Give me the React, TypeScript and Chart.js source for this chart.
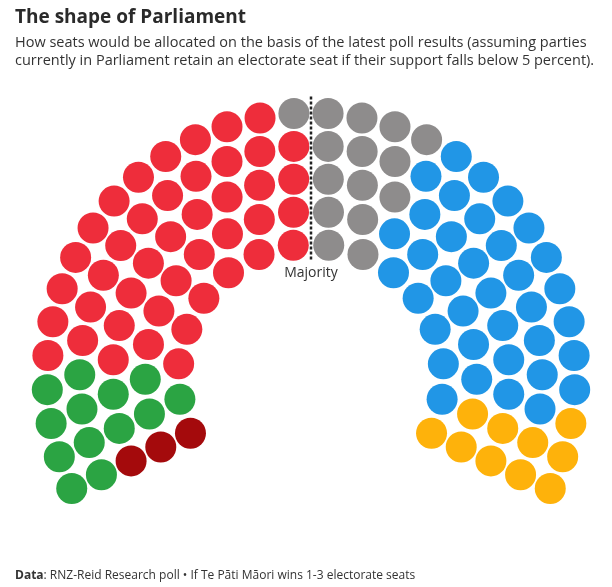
import React, { useEffect, useRef } from "react";
import { Chart, registerables } from "chart.js";

Chart.register(...registerables);

const parties = ["Te Pāti Māori", "Green", "Labour", "NZ First", "National", "ACT"];
const seats = [3, 13, 43, 15, 36, 10];
const partyColors = ["#A40A0C", "#2BA443", "#EE2D3B", "#8E8C8C", "#2196E6", "#FEB20B"];
const seatsPerRow = [16, 20, 24, 28, 32];

const INNER_R = 133;
const ROW_GAP = 32.75;
const START_DEG = 205;
const SPAN_DEG = 230;
const SEAT_RADIUS = 15.5;

function layoutSeats() {
  const all: { off: number; row: number; x: number; y: number }[] = [];
  seatsPerRow.forEach((n, row) => {
    const r = INNER_R + row * ROW_GAP;
    for (let k = 0; k < n; k++) {
      const off = (k * SPAN_DEG) / (n - 1);
      const a = ((START_DEG - off) * Math.PI) / 180;
      all.push({ off, row, x: r * Math.cos(a), y: r * Math.sin(a) });
    }
  });
  all.sort((p, q) => (Math.abs(p.off - q.off) > 1e-6 ? p.off - q.off : p.row - q.row));
  let i = 0;
  return seats.map((s) => {
    const pts = all.slice(i, i + s).map((p) => ({ x: p.x, y: p.y }));
    i += s;
    return pts;
  });
}

const majorityPlugin = {
  id: "majority",
  afterDatasetsDraw(chart: any) {
    const { ctx, scales } = chart;
    const outer = INNER_R + ROW_GAP * (seatsPerRow.length - 1);
    const x = scales.x.getPixelForValue(0);
    const y1 = scales.y.getPixelForValue(outer + SEAT_RADIUS + 1);
    const y2 = scales.y.getPixelForValue(INNER_R - SEAT_RADIUS - 1);
    ctx.save();
    ctx.beginPath();
    ctx.setLineDash([3, 2]);
    ctx.lineWidth = 2.5;
    ctx.strokeStyle = "#222222";
    ctx.moveTo(x, y1);
    ctx.lineTo(x, y2);
    ctx.stroke();
    ctx.setLineDash([]);
    ctx.fillStyle = "#333333";
    ctx.font = "14px 'Open Sans'";
    ctx.textAlign = "center";
    ctx.textBaseline = "alphabetic";
    ctx.fillText("Majority", x, scales.y.getPixelForValue(INNER_R - 33));
    ctx.restore();
  },
};

export default function App() {
  const ref = useRef<HTMLCanvasElement>(null);
  useEffect(() => {
    if (!ref.current) return;
    const groups = layoutSeats();
    const chart = new Chart(ref.current, {
      type: "scatter",
      data: {
        datasets: parties.map((p, i) => ({
          label: p,
          data: groups[i],
          backgroundColor: partyColors[i],
          borderWidth: 0,
          pointRadius: SEAT_RADIUS,
          pointHoverRadius: SEAT_RADIUS,
          clip: false as any,
        })),
      },
      options: {
        animation: false,
        responsive: false,
        maintainAspectRatio: false,
        events: [],
        layout: { padding: 0, autoPadding: false },
        plugins: { legend: { display: false }, tooltip: { enabled: false }, title: { display: false } },
        scales: {
          x: { type: "linear", min: -311, max: 301, display: false },
          y: { type: "linear", min: -210, max: 377, display: false },
        },
      },
      plugins: [majorityPlugin],
    });
    return () => chart.destroy();
  }, []);

  return (
    <div style={{ position: "absolute", left: 0, top: 0, width: 612, height: 587, background: "#fff", fontFamily: "'Open Sans', sans-serif", color: "#333" }}>
      <canvas ref={ref} width={612} height={587} style={{ position: "absolute", left: 0, top: 0, width: 612, height: 587 }} />
      <div style={{ position: "absolute", left: 15, top: 4, fontSize: 19, lineHeight: "24px", fontWeight: 700, color: "#2a2a2a", whiteSpace: "nowrap" }}>
        The shape of Parliament
      </div>
      <div style={{ position: "absolute", left: 15, top: 33, width: 597, fontSize: 14.5, lineHeight: "18px", color: "#333", whiteSpace: "nowrap" }}>
        How seats would be allocated on the basis of the latest poll results (assuming parties
        <br />
        currently in Parliament retain an electorate seat if their support falls below 5 percent).
      </div>
      <div style={{ position: "absolute", left: 15, top: 568, fontSize: 12, lineHeight: "14px", color: "#333", whiteSpace: "nowrap" }}>
        <b>Data</b>: RNZ-Reid Research poll • If Te Pāti Māori wins 1-3 electorate seats
      </div>
    </div>
  );
}
